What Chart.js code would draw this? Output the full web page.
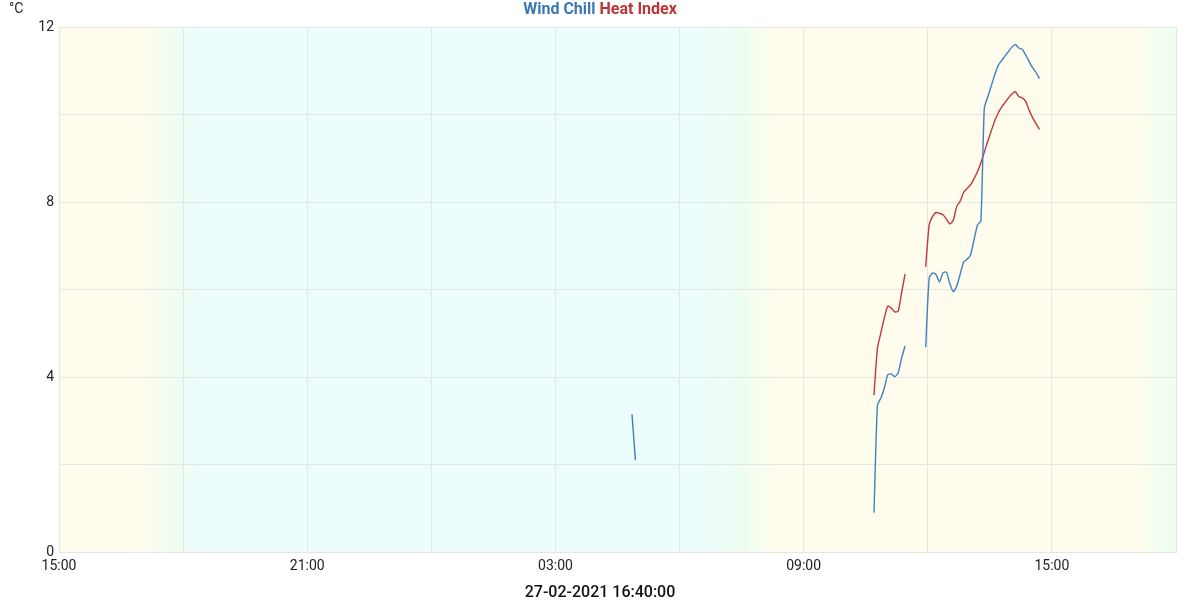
<!DOCTYPE html>
<html>
<head>
<meta charset="utf-8">
<script src="https://cdn.jsdelivr.net/npm/chart.js@4/dist/chart.umd.min.js"></script>
<style>
  html, body { margin: 0; padding: 0; background: #fff; }
  #wrap { width: 1200px; height: 600px; }
</style>
</head>
<body>
<div id="wrap"><canvas id="chill-chart" width="1200" height="600"></canvas></div>
<script>
// DATA
const times = [
    "04:51", "04:56", "06:00",
    "10:42", "10:47", "10:52", "10:57", "11:02", "11:07", "11:12", "11:17", "11:22", "11:27", "11:42",
    "11:57", "12:02", "12:07", "12:12", "12:17", "12:22", "12:27", "12:32", "12:37", "12:42",
    "12:47", "12:52", "12:57", "13:02", "13:07", "13:12", "13:17", "13:22", "13:27", "13:32",
    "13:37", "13:42", "13:47", "13:52", "13:57", "14:02", "14:07", "14:12", "14:17", "14:22",
    "14:27", "14:32", "14:37", "14:42"
];
const windChill = [
    3.15, 2.10, null,
    0.90, 3.36, 3.52, 3.75, 4.05, 4.07, 4.01, 4.09, 4.43, 4.71, null,
    4.68, 6.26, 6.38, 6.34, 6.17, 6.38, 6.40, 6.13, 5.95, 6.08,
    6.35, 6.63, 6.69, 6.79, 7.13, 7.47, 7.57, 10.15, 10.40, 10.65,
    10.90, 11.12, 11.23, 11.34, 11.44, 11.54, 11.60, 11.52, 11.49, 11.36,
    11.21, 11.07, 10.96, 10.82
];
const heatIndex = [
    null, null, null,
    3.59, 4.66, 5.01, 5.35, 5.62, 5.58, 5.49, 5.50, 5.92, 6.35, null,
    6.52, 7.47, 7.67, 7.76, 7.74, 7.71, 7.61, 7.50, 7.58, 7.90,
    8.02, 8.22, 8.31, 8.39, 8.53, 8.69, 8.89, 9.14, 9.39, 9.62,
    9.85, 10.03, 10.17, 10.27, 10.38, 10.47, 10.52, 10.41, 10.38, 10.30,
    10.10, 9.93, 9.79, 9.66
];
const yTicks = [0, 4, 8, 12];
const xLabels = ["15:00", "21:00", "03:00", "09:00", "15:00"];
// day / night shading, hours after 15:00
const bandHours = [0, 2.0, 2.8, 3.4, 15.5, 16.6, 17.3, 26.1, 26.8, 27];
const bandColors = ["#fffcee", "#fffcee", "#effef0", "#edfcfd", "#edfcfd", "#effef0", "#fffcee", "#fffcee", "#effef0", "#effef0"];
const stamp = "27-02-2021 16:40:00";

// hours after 15:00 the day before
function toHours(t) {
    const [hh, mm] = t.split(":").map(Number);
    let h = hh + mm / 60 - 15;
    if (h < 0) h += 24;
    return h;
}

const BLUE = "#3f80bf";
const RED = "#c0393d";
const FONT = "Roboto";

const bgPlugin = {
    id: "dayNight",
    beforeDraw(chart) {
        const { ctx, chartArea: a, scales: { x } } = chart;
        const x0 = x.getPixelForValue(0);
        const x1 = x.getPixelForValue(27);
        const grad = ctx.createLinearGradient(x0, 0, x1, 0);
        for (let i = 0; i < bandHours.length; i++) {
            grad.addColorStop(bandHours[i] / 27, bandColors[i]);
        }
        ctx.save();
        ctx.fillStyle = grad;
        ctx.fillRect(a.left, a.top, a.right - a.left, a.bottom - a.top);
        ctx.restore();
    },
    afterDraw(chart) {
        const ctx = chart.ctx;
        ctx.save();
        // legend at top
        ctx.font = "bold 16px " + FONT;
        ctx.textBaseline = "middle";
        const t1 = "Wind Chill", t2 = "Heat Index";
        const w1 = ctx.measureText(t1 + " ").width;
        const w2 = ctx.measureText(t2).width;
        let lx = 600 - (w1 + w2) / 2;
        ctx.fillStyle = "#3b78b3";
        ctx.fillText(t1, lx, 10);
        ctx.fillStyle = "#bb3537";
        ctx.fillText(t2, lx + w1, 10);
        // unit
        ctx.font = "14px " + FONT;
        ctx.fillStyle = "#222";
        ctx.fillText("°C", 9, 9);
        // timestamp at bottom
        ctx.font = "500 16px " + FONT;
        ctx.textAlign = "center";
        ctx.fillStyle = "#111";
        ctx.fillText(stamp, 600, 593);
        ctx.restore();
    }
};

const ctx = document.getElementById("chill-chart").getContext("2d");

const config = {
    type: "line",
    data: {
        datasets: [
            {
                label: "Wind Chill",
                data: times.map((t, i) => ({ x: toHours(t), y: windChill[i] })),
                borderColor: BLUE,
                borderWidth: 1.4,
                pointRadius: 0,
                tension: 0.2,
                spanGaps: false,
            },
            {
                label: "Heat Index",
                data: times.map((t, i) => ({ x: toHours(t), y: heatIndex[i] })),
                borderColor: RED,
                borderWidth: 1.4,
                pointRadius: 0,
                tension: 0.2,
                spanGaps: false,
            },
        ],
    },
    options: {
        responsive: false,
        animation: false,
        layout: { padding: { top: 27, right: 24, left: 0, bottom: 0 } },
        plugins: {
            legend: { display: false },
            title: { display: false },
            tooltip: { enabled: false },
        },
        scales: {
            x: {
                type: "linear",
                min: 0,
                max: 27,
                afterFit: (s) => { s.height = 48; },
                grid: { color: "#e6e6e6", drawTicks: false },
                border: { color: "#e6e6e6" },
                ticks: {
                    stepSize: 3,
                    padding: 6,
                    maxRotation: 0,
                    autoSkip: false,
                    color: "#222",
                    font: { family: FONT, size: 14 },
                    callback: (v) => (v % 6 === 0 ? xLabels[v / 6] : ""),
                },
            },
            y: {
                min: 0,
                max: 12,
                afterFit: (s) => { s.width = 59; },
                grid: { color: "#e6e6e6", drawTicks: false },
                border: { color: "#e6e6e6" },
                ticks: {
                    stepSize: 2,
                    padding: 5,
                    color: "#222",
                    font: { family: FONT, size: 14 },
                    callback: (v) => (yTicks.includes(v) ? String(v) : ""),
                },
            },
        },
    },
    plugins: [bgPlugin],
};

const chillChart = new Chart(ctx, config);
</script>
</body>
</html>
